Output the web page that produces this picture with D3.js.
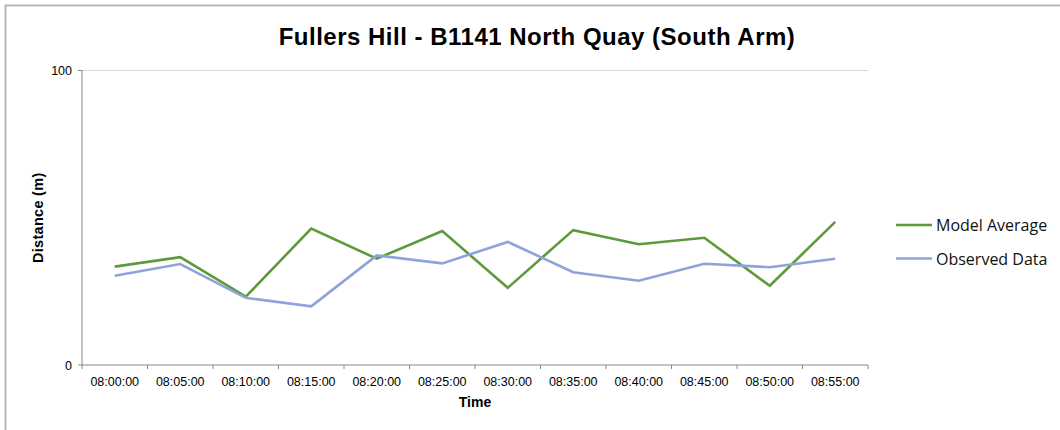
<!DOCTYPE html>
<html>
<head>
<meta charset="utf-8">
<script src="https://cdn.jsdelivr.net/npm/d3@7"></script>
<style>
    body { margin: 0; background: #fff; }
    svg text { font-family: "Liberation Sans", Arial, sans-serif; }
</style>
</head>
<body>
<div id="chart"></div>
<script>
const times = ["08:00:00", "08:05:00", "08:10:00", "08:15:00", "08:20:00", "08:25:00",
    "08:30:00", "08:35:00", "08:40:00", "08:45:00", "08:50:00", "08:55:00"];
const modelAverage = [33.4, 36.6, 23.2, 46.3, 36.1, 45.5, 26.2, 45.8, 41.0, 43.2, 26.9, 48.6];
const observedData = [30.3, 34.3, 22.8, 19.9, 37.2, 34.5, 41.8, 31.5, 28.6, 34.4, 33.2, 36.1];
const yTicks = [0, 100];

const series = [
    {name: "Model Average", values: modelAverage, color: "#5e9a3b"},
    {name: "Observed Data", values: observedData, color: "#8ea3db"}
];

const W = 1060, H = 430;
const margin = {top: 70.5, right: 192, bottom: 65, left: 82},
    width = W - margin.left - margin.right,
    height = H - margin.top - margin.bottom;

const svg = d3.select("#chart").append("svg")
    .attr("width", W)
    .attr("height", H);

// outer frame of the chart
svg.append("rect")
    .attr("x", 5.5).attr("y", 5.5)
    .attr("width", W + 10).attr("height", H + 10)
    .attr("fill", "none")
    .attr("stroke", "#b8b8b8")
    .attr("stroke-width", 2);

const g = svg.append("g")
    .attr("transform", "translate(" + margin.left + "," + margin.top + ")");

const x = d3.scaleBand().domain(times).range([0, width]);
const y = d3.scaleLinear().domain([0, 100]).range([height, 0]);

// grid line at the top
g.append("line")
    .attr("x1", 0).attr("x2", width)
    .attr("y1", y(100)).attr("y2", y(100))
    .attr("stroke", "#d9d9d9");

// x axis, ticks at band edges
const xAxis = g.append("g")
    .attr("transform", "translate(0," + height + ")");
xAxis.append("line")
    .attr("x1", 0).attr("x2", width)
    .attr("stroke", "#868686");
xAxis.selectAll(".tick")
    .data(times.map((t, i) => i).concat([times.length]))
    .enter().append("line")
    .attr("x1", i => i < times.length ? x(times[i]) : width)
    .attr("x2", i => i < times.length ? x(times[i]) : width)
    .attr("y1", 0).attr("y2", 4)
    .attr("stroke", "#868686");
xAxis.selectAll(".lbl")
    .data(times)
    .enter().append("text")
    .attr("x", d => x(d) + x.bandwidth() / 2)
    .attr("y", 20.5)
    .attr("text-anchor", "middle")
    .attr("font-size", "12.5px")
    .attr("fill", "#000")
    .text(d => d);

// y axis
const yAxis = g.append("g");
yAxis.append("line")
    .attr("x1", 0).attr("x2", 0)
    .attr("y1", 0).attr("y2", height)
    .attr("stroke", "#868686");
yAxis.selectAll(".tick")
    .data(yTicks)
    .enter().append("line")
    .attr("x1", -4).attr("x2", 0)
    .attr("y1", d => y(d)).attr("y2", d => y(d))
    .attr("stroke", "#868686");
yAxis.selectAll(".lbl")
    .data(yTicks)
    .enter().append("text")
    .attr("x", -10)
    .attr("y", d => y(d) + 4.5)
    .attr("text-anchor", "end")
    .attr("font-size", "12.5px")
    .text(d => d);

// lines
const line = d3.line()
    .x((d, i) => x(times[i]) + x.bandwidth() / 2)
    .y(d => y(d));

g.selectAll(".series")
    .data(series)
    .enter().append("path")
    .attr("d", d => line(d.values))
    .attr("fill", "none")
    .attr("stroke", d => d.color)
    .attr("stroke-width", 2.6)
    .attr("stroke-linejoin", "miter");

// titles
svg.append("text")
    .attr("x", 537).attr("y", 45)
    .attr("text-anchor", "middle")
    .attr("font-size", "24px")
    .attr("letter-spacing", "0.5px")
    .attr("font-weight", "bold")
    .text("Fullers Hill - B1141 North Quay (South Arm)");

svg.append("text")
    .attr("x", margin.left + width / 2).attr("y", 407)
    .attr("text-anchor", "middle")
    .attr("font-size", "14px")
    .attr("font-weight", "bold")
    .text("Time");

svg.append("text")
    .attr("transform", "translate(43," + (margin.top + height / 2) + ") rotate(-90)")
    .attr("text-anchor", "middle")
    .attr("font-size", "14.5px")
    .attr("letter-spacing", "0.3px")
    .attr("font-weight", "bold")
    .text("Distance (m)");

// legend
const legend = svg.selectAll(".legend")
    .data(series)
    .enter().append("g")
    .attr("transform", (d, i) => "translate(896," + (225 + i * 33.5) + ")");
legend.append("line")
    .attr("x1", 0).attr("x2", 36)
    .attr("stroke", d => d.color)
    .attr("stroke-width", 2.6);
legend.append("text")
    .attr("x", 40).attr("y", 6)
    .style("font-family", "'Open Sans', 'Noto Sans', sans-serif")
    .attr("font-size", "16px")
    .attr("fill", "#111")
    .text(d => d.name);
</script>
</body>
</html>
